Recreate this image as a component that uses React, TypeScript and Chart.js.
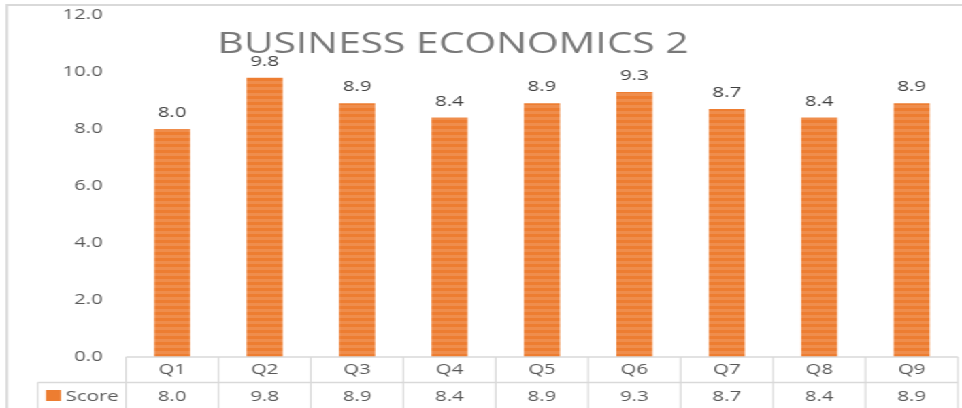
import React, { useEffect, useRef } from "react";
import { Chart, registerables } from "chart.js";

Chart.register(...registerables);

const title = "BUSINESS ECONOMICS 2";
const categories = ["Q1", "Q2", "Q3", "Q4", "Q5", "Q6", "Q7", "Q8", "Q9"];
const scores = [8.0, 9.8, 8.9, 8.4, 8.9, 9.3, 8.7, 8.4, 8.9];
const seriesName = "Score";
const yMin = 0;
const yMax = 12;
const yStep = 2;

const OUT_W = 962;
const LOG_W = 707;
const H = 408;
const SX = OUT_W / LOG_W;
const FONT = "'Open Sans', 'Noto Sans', sans-serif";

function makePattern(): CanvasPattern | string {
  const c = document.createElement("canvas");
  c.width = 4;
  c.height = 6;
  const g = c.getContext("2d");
  if (!g) return "#ED7D31";
  g.fillStyle = "#ED7D31";
  g.fillRect(0, 0, 4, 6);
  g.fillStyle = "#EF8D4C";
  g.fillRect(0, 3, 4, 3);
  return g.createPattern(c, "repeat") || "#ED7D31";
}

const overlay = {
  id: "excelOverlay",
  afterDraw(chart: any) {
    const ctx = chart.ctx as CanvasRenderingContext2D;
    const area = chart.chartArea;
    const xs = chart.scales.x;
    const n = categories.length;
    const colW = (area.right - area.left) / n;
    const lineCol = "#D9D9D9";
    ctx.save();

    // outer border
    ctx.strokeStyle = lineCol;
    ctx.lineWidth = 2;
    ctx.beginPath();
    ctx.moveTo(LOG_W, 5);
    ctx.lineTo(5.1, 5);
    ctx.lineTo(5.1, H);
    ctx.stroke();

    // title
    ctx.fillStyle = "#787878";
    ctx.font = `30px ${FONT}`;
    ctx.textAlign = "center";
    ctx.textBaseline = "alphabetic";
    ctx.fillText(title, 333, 53);

    // data labels
    const meta = chart.getDatasetMeta(0);
    ctx.font = `15px ${FONT}`;
    ctx.fillStyle = "#404040";
    meta.data.forEach((bar: any, i: number) => {
      ctx.fillText(scores[i].toFixed(1), bar.x, bar.y - 12);
    });

    // data table
    const top = area.bottom;
    const mid = top + 25.5;
    const tableLeft = 27.7;
    ctx.strokeStyle = lineCol;
    ctx.lineWidth = 1.5;
    ctx.beginPath();
    ctx.moveTo(area.left, top);
    ctx.lineTo(area.right, top);
    ctx.moveTo(tableLeft, mid);
    ctx.lineTo(area.right, mid);
    ctx.stroke();
    ctx.lineWidth = 1.2;
    ctx.beginPath();
    for (let i = 0; i <= n; i++) {
      const x = area.left + i * colW;
      ctx.moveTo(x, top);
      ctx.lineTo(x, H);
    }
    ctx.moveTo(tableLeft, mid);
    ctx.lineTo(tableLeft, H);
    ctx.stroke();

    ctx.fillStyle = "#595959";
    ctx.font = `15px ${FONT}`;
    ctx.textAlign = "center";
    categories.forEach((c, i) => {
      const x = xs.getPixelForValue(i);
      ctx.fillText(c, x, top + 17);
      ctx.fillText(scores[i].toFixed(1), x, mid + 18.5);
    });

    // legend key
    ctx.fillStyle = "#ED7D31";
    ctx.fillRect(33.8, mid + 7.5, 11, 11);
    ctx.fillStyle = "#595959";
    ctx.textAlign = "left";
    ctx.fillText(seriesName, 48.3, mid + 18.5);

    ctx.restore();
  },
};

export default function App() {
  const ref = useRef<HTMLCanvasElement>(null);

  useEffect(() => {
    document.body.style.margin = "0";
    const canvas = ref.current;
    if (!canvas) return;
    const pattern = makePattern();
    const chart = new Chart(canvas, {
      type: "bar",
      data: {
        labels: categories,
        datasets: [
          {
            label: seriesName,
            data: scores,
            backgroundColor: pattern as any,
            borderWidth: 0,
            barPercentage: 0.39,
            categoryPercentage: 1,
          },
        ],
      },
      options: {
        responsive: false,
        animation: false,
        devicePixelRatio: 1,
        layout: { padding: { left: 0, right: 3, top: 15, bottom: H - 357 } },
        plugins: {
          legend: { display: false },
          title: { display: false },
          tooltip: { enabled: false },
        },
        scales: {
          x: {
            display: false,
            offset: true,
          },
          y: {
            min: yMin,
            max: yMax,
            ticks: {
              stepSize: yStep,
              padding: 0,
              color: "#595959",
              font: { family: FONT, size: 15 },
              callback: (v: any) => Number(v).toFixed(1),
            },
            grid: { display: false, drawTicks: true, tickLength: 17 },
            border: { display: false },
            afterFit: (scale: any) => {
              scale.width = 92.6;
            },
          },
        },
      },
      plugins: [overlay],
    });
    return () => chart.destroy();
  }, []);

  return (
    <div
      style={{
        position: "absolute",
        left: 0,
        top: 0,
        width: LOG_W,
        height: H,
        transform: `scaleX(${SX})`,
        transformOrigin: "0 0",
        background: "#fff",
      }}
    >
      <canvas ref={ref} width={LOG_W} height={H} style={{ display: "block" }} />
    </div>
  );
}
